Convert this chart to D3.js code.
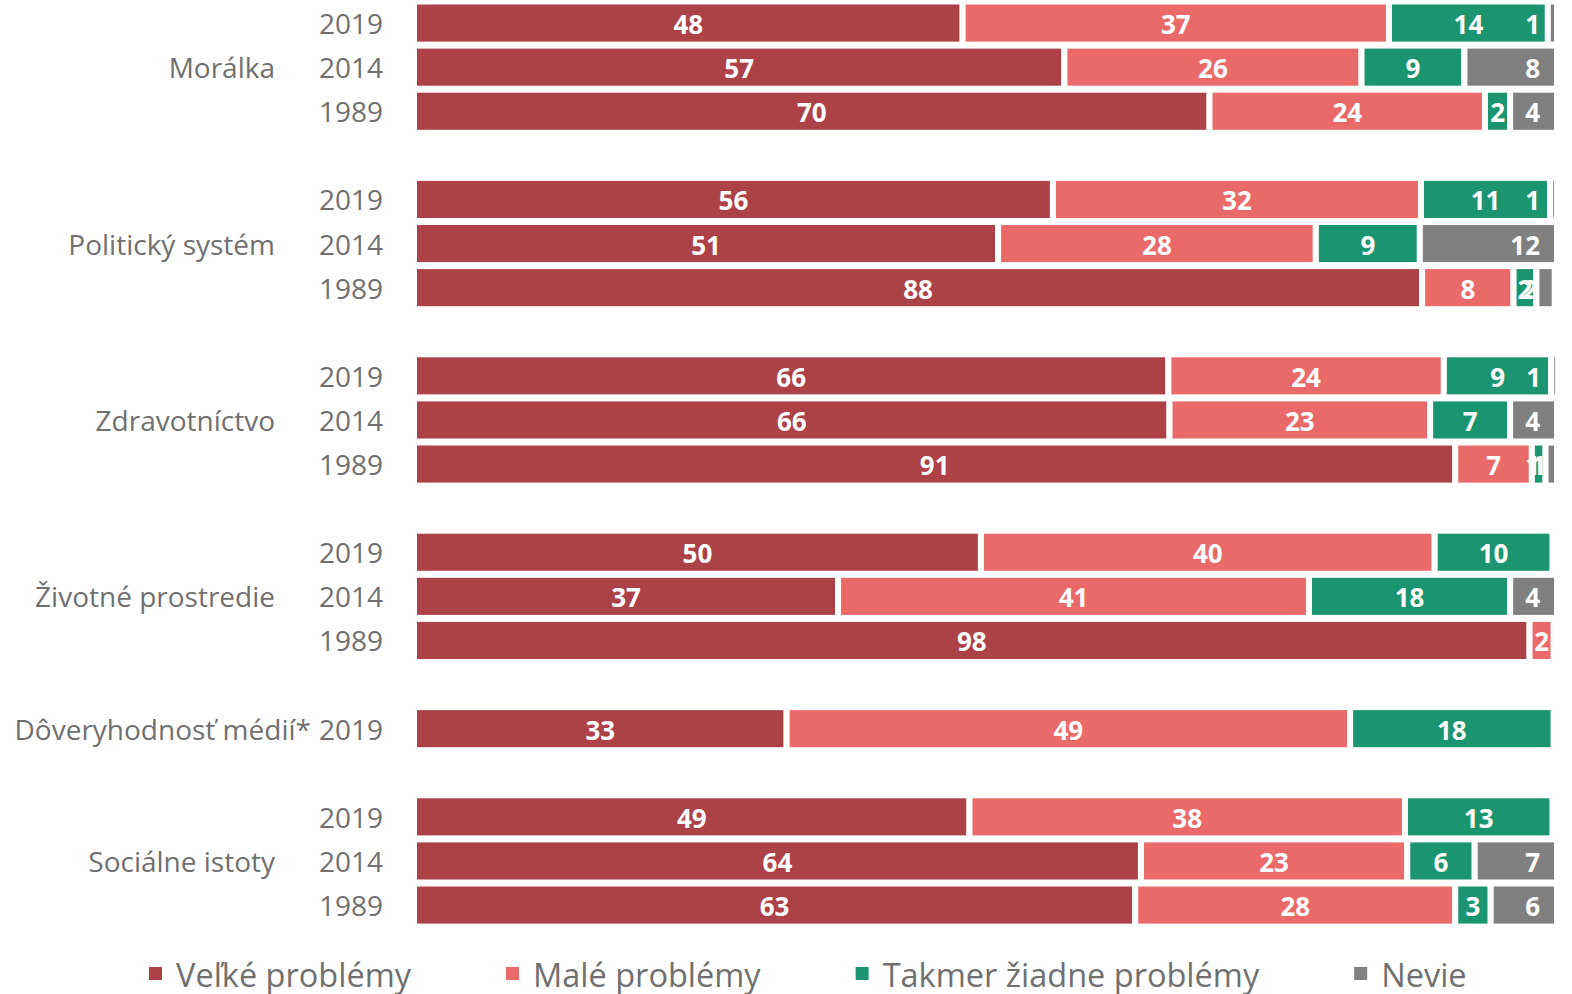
<!DOCTYPE html>
<html>
<head>
<meta charset="utf-8">
<script src="https://cdn.jsdelivr.net/npm/d3@7"></script>
<style>
  body { margin: 0; background: #fff; }
  svg { display: block; }
</style>
</head>
<body>
<script>
// series names
var series = ["Veľké problémy", "Malé problémy", "Takmer žiadne problémy", "Nevie"];
var colors = ["#ad4148", "#ea6969", "#1b9570", "#808080"];

// groups and the years inside each group
var groups = ["Morálka", "Politický systém", "Zdravotníctvo", "Životné prostredie", "Dôveryhodnosť médií*", "Sociálne istoty"];
var years = [
  ["2019", "2014", "1989"],
  ["2019", "2014", "1989"],
  ["2019", "2014", "1989"],
  ["2019", "2014", "1989"],
  ["2019"],
  ["2019", "2014", "1989"]
];

// values in %, one per row in reading order
var velke  = [48.0, 56.9, 69.6, 55.9, 51.1, 88.2, 66.0, 66.1, 91.1, 49.6, 37.1, 97.6, 32.6, 48.6, 63.6, 63.1];
var male   = [37.3, 26.0, 24.1, 32.2, 27.8,  8.0, 24.1, 22.8,  6.7, 39.7, 41.2,  2.1, 49.3, 38.1, 23.3, 28.0];
var takmer = [13.9,  9.0,  2.2, 11.3,  9.1,  2.0,  9.4,  7.0,  1.2, 10.3, 17.6,  0,   17.8, 12.9,  5.9,  3.1];
var nevie  = [ 0.8,  8.1,  4.1,  0.6, 12.0,  1.6,  0.6,  4.1,  1.0,  0,    4.1,  0,    0,    0,    7.2,  5.8];

var width = 1572, height = 994;

var svg = d3.select("body").append("svg")
    .attr("width", width)
    .attr("height", height);

// build rows, leaving one empty slot between groups
var rows = [];
var slot = 0, k = 0;
groups.forEach(function(g, gi) {
  years[gi].forEach(function(yr, j) {
    rows.push({group: g, year: yr, slot: slot, first: j, n: years[gi].length,
               values: [velke[k], male[k], takmer[k], nevie[k]]});
    slot++; k++;
  });
  slot++;
});
var nSlots = slot - 1;

var x = d3.scaleLinear().domain([0, 100]).range([414, 1557]);
var y = d3.scaleBand()
    .domain(d3.range(nSlots))
    .range([1, 1 + nSlots * 44.1])
    .paddingInner(1 / 44)
    .paddingOuter(1 / 88);

// segments
var segs = [];
rows.forEach(function(r) {
  var acc = 0;
  r.values.forEach(function(v, si) {
    if (v > 0) segs.push({row: r, s: si, x0: acc, x1: acc + v, v: v});
    acc += v;
  });
});

svg.append("g").selectAll("rect")
  .data(segs)
  .enter().append("rect")
    .attr("x", function(d) { return x(d.x0); })
    .attr("y", function(d) { return y(d.row.slot); })
    .attr("width", function(d) { return x(d.x1) - x(d.x0); })
    .attr("height", y.bandwidth())
    .attr("fill", function(d) { return colors[d.s]; })
    .attr("stroke", "#fff")
    .attr("stroke-width", 6);

// value labels ("Nevie" sits at the inside end)
svg.append("g").selectAll("text")
  .data(segs)
  .enter().append("text")
    .attr("x", function(d) { return d.s === 3 ? x(d.x1) - 17 : (x(d.x0) + x(d.x1)) / 2; })
    .attr("y", function(d) { return y(d.row.slot) + y.bandwidth() / 2 + 1; })
    .attr("text-anchor", function(d) { return d.s === 3 ? "end" : "middle"; })
    .attr("dominant-baseline", "central")
    .attr("fill", "#fff")
    .style("font-family", "'Open Sans', sans-serif")
    .style("font-weight", 700)
    .style("font-size", "26px")
    .text(function(d) { return Math.round(d.v); });

// category axis: years and groups
var axisColor = "#707070";
var yearEnd = 383, groupEnd = 275;

var yearText = svg.append("g").selectAll("text")
  .data(rows)
  .enter().append("text")
    .attr("x", yearEnd)
    .attr("y", function(d) { return y(d.slot) + y.bandwidth() / 2; })
    .attr("text-anchor", "end")
    .attr("dominant-baseline", "central")
    .attr("fill", axisColor)
    .style("font-family", "'Open Sans', sans-serif")
    .style("font-size", "28px")
    .text(function(d) { return d.year; });

var yearWidth = yearText.node().getComputedTextLength();

svg.append("g").selectAll("text")
  .data(rows.filter(function(r) { return r.first === Math.floor(r.n / 2); }))
  .enter().append("text")
    .attr("x", function(d) { return d.n === 1 ? yearEnd - yearWidth - 8 : groupEnd; })
    .attr("y", function(d) { return y(d.slot) + y.bandwidth() / 2; })
    .attr("text-anchor", "end")
    .attr("dominant-baseline", "central")
    .attr("fill", axisColor)
    .style("font-family", "'Open Sans', sans-serif")
    .style("font-size", "28px")
    .text(function(d) { return d.group; });

// legend
var legend = svg.append("g").attr("transform", "translate(149,974)");
var lx = 0;
series.forEach(function(s, i) {
  var item = legend.append("g").attr("transform", "translate(" + lx + ",0)");
  item.append("rect")
    .attr("x", 0).attr("y", -7)
    .attr("width", 13).attr("height", 13)
    .attr("fill", colors[i]);
  var t = item.append("text")
    .attr("x", 27)
    .attr("y", 0)
    .attr("dominant-baseline", "central")
    .attr("fill", axisColor)
    .style("font-family", "'Open Sans', sans-serif")
    .style("font-size", "32.5px")
    .text(s);
  lx += 27 + t.node().getComputedTextLength() + 95;
});
</script>
</body>
</html>
